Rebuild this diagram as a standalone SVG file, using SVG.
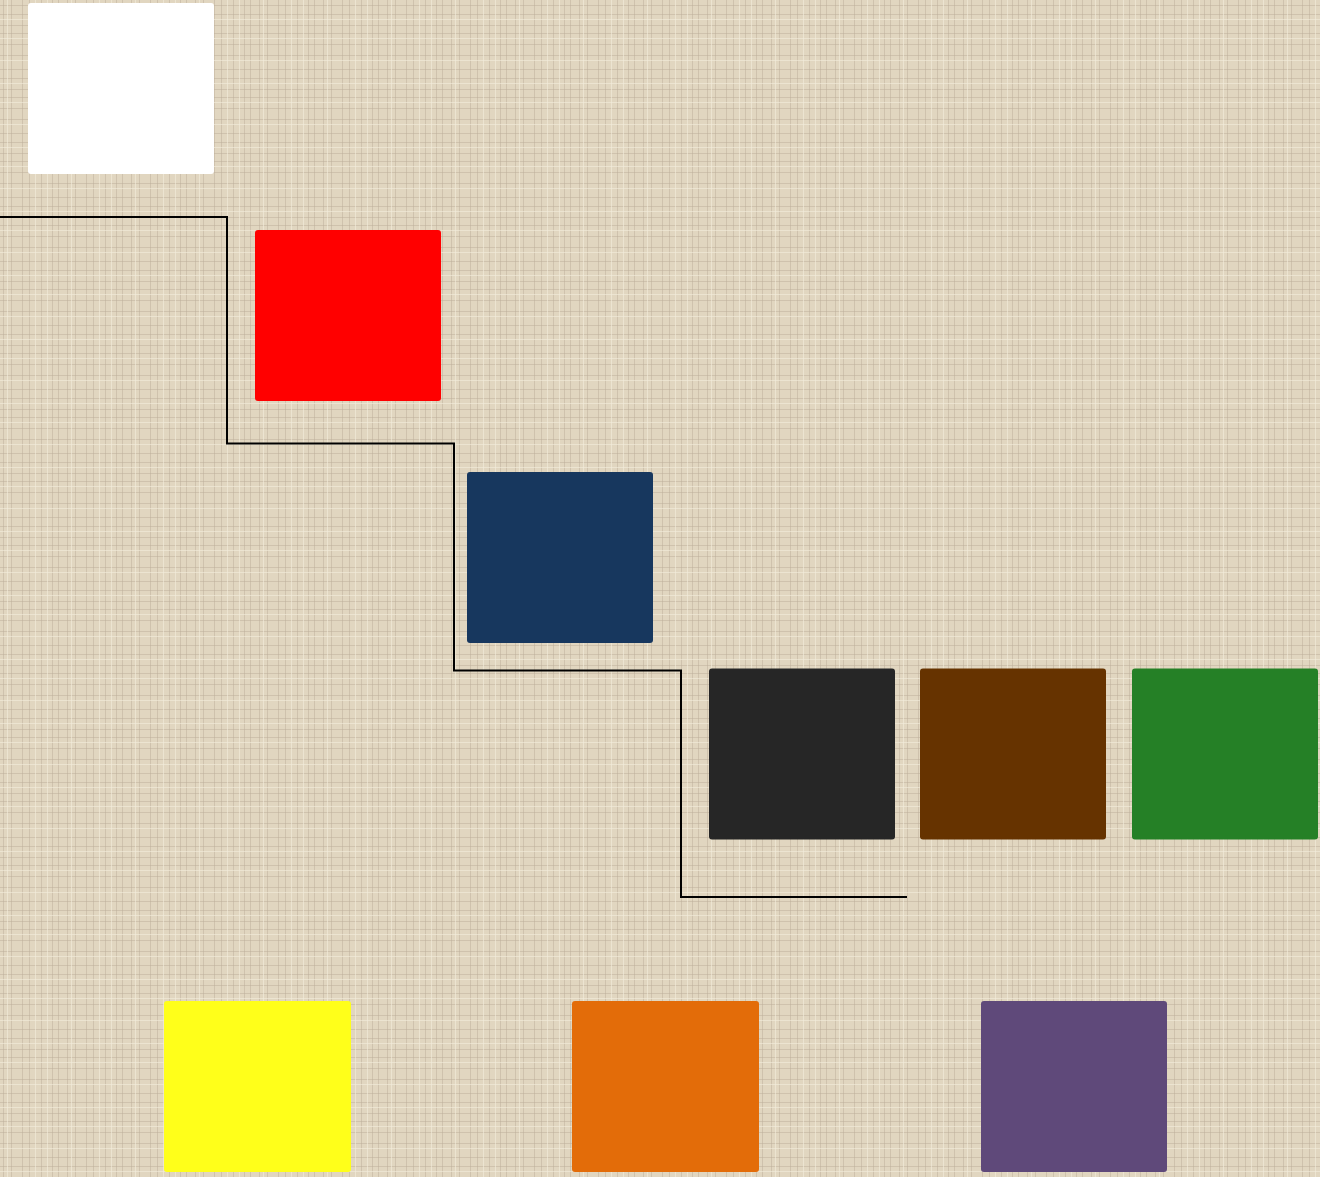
<svg xmlns="http://www.w3.org/2000/svg" width="1320" height="1177" viewBox="0 0 1320 1177">
<style>
.node{stroke:none}
.conn{fill:none;stroke:#000;stroke-width:2}
</style>
<defs>
<pattern id="linen" width="64" height="64" patternUnits="userSpaceOnUse">
<rect width="64" height="64" fill="#e1d6c0"/>
<g stroke="#b8ac96" stroke-opacity="0.45" stroke-width="1">
<line x1="3.5" y1="0" x2="3.5" y2="64"/>
<line x1="11.5" y1="0" x2="11.5" y2="64"/>
<line x1="22.5" y1="0" x2="22.5" y2="64"/>
<line x1="29.5" y1="0" x2="29.5" y2="64"/>
<line x1="41.5" y1="0" x2="41.5" y2="64"/>
<line x1="52.5" y1="0" x2="52.5" y2="64"/>
<line x1="58.5" y1="0" x2="58.5" y2="64"/>
<line x1="0" y1="5.5" x2="64" y2="5.5"/>
<line x1="0" y1="14.5" x2="64" y2="14.5"/>
<line x1="0" y1="25.5" x2="64" y2="25.5"/>
<line x1="0" y1="33.5" x2="64" y2="33.5"/>
<line x1="0" y1="44.5" x2="64" y2="44.5"/>
<line x1="0" y1="55.5" x2="64" y2="55.5"/>
</g>
<g stroke="#f3ecdc" stroke-opacity="0.6" stroke-width="1">
<line x1="7.5" y1="0" x2="7.5" y2="64"/>
<line x1="35.5" y1="0" x2="35.5" y2="64"/>
<line x1="47.5" y1="0" x2="47.5" y2="64"/>
<line x1="0" y1="19.5" x2="64" y2="19.5"/>
<line x1="0" y1="38.5" x2="64" y2="38.5"/>
<line x1="0" y1="60.5" x2="64" y2="60.5"/>
</g>
</pattern>
</defs>
<rect id="background" width="1320" height="1177" fill="url(#linen)"/>
<g id="connectors">
<polyline class="conn" points="0,217 227,217 227,443.5 454,443.5 454,670.5 681,670.5 681,897 907,897"/>
</g>
<g id="node-white"><rect class="node" x="28" y="3" width="186" height="171" rx="3" fill="#ffffff"/></g>
<g id="node-red"><rect class="node" x="255" y="230" width="186" height="171" rx="3" fill="#ff0000"/></g>
<g id="node-navy"><rect class="node" x="467" y="472" width="186" height="171" rx="3" fill="#17375e"/></g>
<g id="node-dark"><rect class="node" x="709" y="668.5" width="186" height="171" rx="3" fill="#262626"/></g>
<g id="node-brown"><rect class="node" x="920" y="668.5" width="186" height="171" rx="3" fill="#663300"/></g>
<g id="node-green"><rect class="node" x="1132" y="668.5" width="186" height="171" rx="3" fill="#258026"/></g>
<g id="node-yellow"><rect class="node" x="164" y="1001" width="187" height="171" rx="3" fill="#ffff1a"/></g>
<g id="node-orange"><rect class="node" x="572" y="1001" width="187" height="171" rx="3" fill="#e36c09"/></g>
<g id="node-purple"><rect class="node" x="981" y="1001" width="186" height="171" rx="3" fill="#5f497a"/></g>
</svg>
